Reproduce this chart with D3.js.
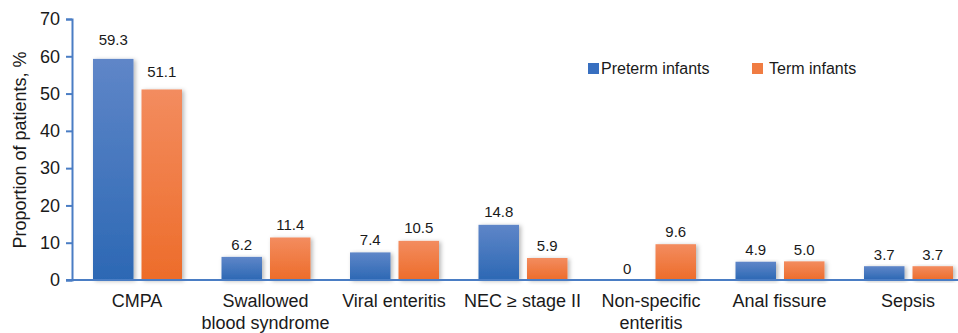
<!DOCTYPE html>
<html>
<head>
<meta charset="utf-8">
<script src="https://cdn.jsdelivr.net/npm/d3@7"></script>
<style>
  html, body { margin: 0; padding: 0; background: #fff; }
  svg { display: block; font-family: "Liberation Sans", Arial, Helvetica, sans-serif; }
</style>
</head>
<body>
<svg id="chart" width="958" height="333"></svg>
<script>
// Diagnoses shown along the x axis (line breaks marked with \n)
const categories = [
  "CMPA",
  "Swallowed\nblood syndrome",
  "Viral enteritis",
  "NEC \u2265 stage II",
  "Non-specific\nenteritis",
  "Anal fissure",
  "Sepsis"
];
const seriesNames = ["Preterm infants", "Term infants"];
const pretermValues = [59.3, 6.2, 7.4, 14.8, 0, 4.9, 3.7];
const termValues = [51.1, 11.4, 10.5, 5.9, 9.6, 5.0, 3.7];
const valueLabels = {
  "Preterm infants": ["59.3", "6.2", "7.4", "14.8", "0", "4.9", "3.7"],
  "Term infants": ["51.1", "11.4", "10.5", "5.9", "9.6", "5.0", "3.7"]
};
const yTicks = [0, 10, 20, 30, 40, 50, 60, 70];
const yTitle = "Proportion of patients, %";

const svg = d3.select("#chart");
const defs = svg.append("defs");

function gradient(id, top, bottom) {
  const g = defs.append("linearGradient").attr("id", id)
    .attr("x1", 0).attr("y1", 0).attr("x2", 0).attr("y2", 1);
  g.append("stop").attr("offset", "0%").attr("stop-color", top);
  g.append("stop").attr("offset", "100%").attr("stop-color", bottom);
}
gradient("gradBlue", "#5f86c8", "#2c68b4");
gradient("gradOrange", "#f38c5f", "#ed6c2a");

const shadow = defs.append("filter").attr("id", "barShadow")
  .attr("x", "-20%").attr("y", "-10%").attr("width", "150%").attr("height", "130%");
shadow.append("feDropShadow").attr("dx", 2).attr("dy", 1)
  .attr("stdDeviation", 2).attr("flood-color", "#000").attr("flood-opacity", 0.28);

const fills = { "Preterm infants": "url(#gradBlue)", "Term infants": "url(#gradOrange)" };
const legendColors = { "Preterm infants": "#386fc0", "Term infants": "#f07c42" };
const axisColor = "#4a7dc4";

const y = d3.scaleLinear().domain([0, 70]).range([280, 19]);
const x = d3.scaleBand().domain(categories).range([72.75, 972.25]).paddingInner(0).paddingOuter(0);
const xSub = d3.scaleBand().domain(seriesNames).range([20.25, 109.25]).paddingInner(0.165).paddingOuter(0);

const rows = categories.map((c, i) => ({
  category: c,
  values: [
    { series: "Preterm infants", value: pretermValues[i], label: valueLabels["Preterm infants"][i] },
    { series: "Term infants", value: termValues[i], label: valueLabels["Term infants"][i] }
  ]
}));

// Bars
const groups = svg.append("g").selectAll("g.cat").data(rows).join("g")
  .attr("class", "cat")
  .attr("transform", d => `translate(${x(d.category)},0)`);

groups.selectAll("rect").data(d => d.values.filter(v => v.value > 0)).join("rect")
  .attr("x", d => xSub(d.series))
  .attr("width", xSub.bandwidth())
  .attr("y", d => y(d.value))
  .attr("height", d => y(0) - y(d.value))
  .attr("fill", d => fills[d.series])
  .attr("filter", "url(#barShadow)");

// Value labels above each bar
groups.selectAll("text.val").data(d => d.values).join("text")
  .attr("class", "val")
  .attr("x", d => xSub(d.series) + xSub.bandwidth() / 2)
  .attr("y", d => y(d.value) - (6 + d.value * 0.13))
  .attr("text-anchor", "middle")
  .attr("font-size", 15)
  .attr("fill", "#1a1a1a")
  .text(d => d.label);

// Y axis
const yAxis = svg.append("g").attr("transform", "translate(72,0)")
  .call(d3.axisLeft(y).tickValues(yTicks).tickSize(6).tickPadding(6).tickFormat(d3.format("d")));
yAxis.select(".domain").attr("stroke", axisColor).attr("stroke-width", 2);
yAxis.selectAll(".tick line").attr("stroke", axisColor).attr("stroke-width", 2);
yAxis.selectAll(".tick text").attr("font-size", 18).attr("fill", "#1a1a1a")
  .attr("font-family", "'Liberation Sans', Arial, sans-serif");

// X axis baseline and category labels
const xAxis = svg.append("g").attr("transform", "translate(0,280)")
  .call(d3.axisBottom(x).tickSize(0).tickPadding(0).tickFormat(""));
xAxis.select(".domain").attr("stroke", axisColor).attr("stroke-width", 2)
  .attr("d", "M66,0H958");

xAxis.selectAll(".tick").each(function (d) {
  const lines = d.split("\n");
  const t = d3.select(this).append("text")
    .attr("text-anchor", "middle")
    .attr("font-size", 18)
    .attr("fill", "#1a1a1a")
    .attr("font-family", "'Liberation Sans', Arial, sans-serif");
  lines.forEach((ln, i) => {
    t.append("tspan").attr("x", 0).attr("y", 27 + i * 22).text(ln);
  });
});

// Y axis title
svg.append("text")
  .attr("transform", "translate(26,150) rotate(-90)")
  .attr("text-anchor", "middle")
  .attr("font-size", 18)
  .attr("fill", "#1a1a1a")
  .text(yTitle);

// Legend
const legendX = { "Preterm infants": 588, "Term infants": 752 };
const legend = svg.append("g").selectAll("g").data(seriesNames).join("g")
  .attr("transform", d => `translate(${legendX[d]},63)`);
legend.append("rect").attr("width", 11).attr("height", 11).attr("fill", d => legendColors[d]);
legend.append("text")
  .attr("x", d => d === "Preterm infants" ? 13 : 17)
  .attr("y", 11)
  .attr("font-size", 16)
  .attr("fill", "#1a1a1a")
  .text(d => d);
</script>
</body>
</html>
